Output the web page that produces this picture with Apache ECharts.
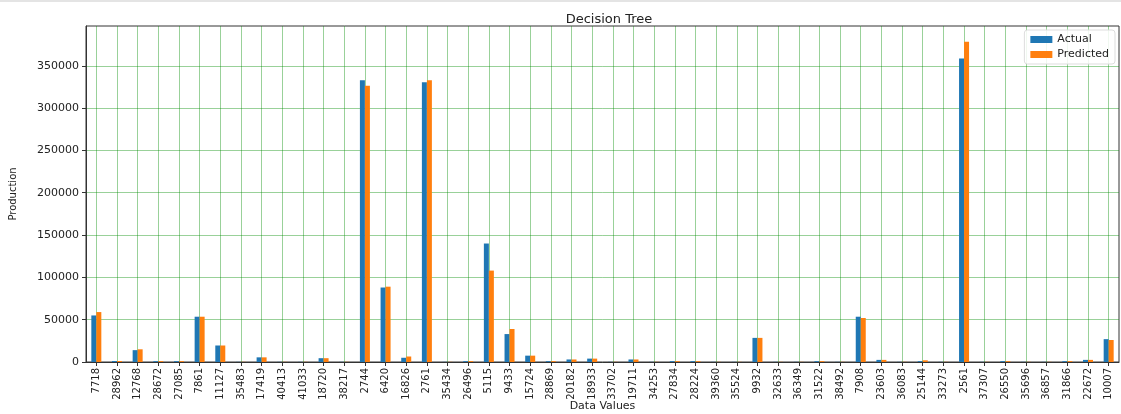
<!DOCTYPE html>
<html>
<head>
<meta charset="utf-8">
<script src="https://cdn.jsdelivr.net/npm/echarts@6/dist/echarts.min.js"></script>
<style>
  html, body { margin: 0; padding: 0; background: #fff; }
  #chart { width: 1121px; height: 414px; border-top: 2px solid #e4e4e4; box-sizing: border-box; }
</style>
</head>
<body>
<div id="chart"></div>
<script>
// Sample identifiers shown along the x axis
const dataValues = ['7718','28962','12768','28672','27085','7861','11127','35483','17419','40413',
  '41033','18720','38217','2744','6420','16826','2761','35434','26496','5115',
  '9433','15724','28869','20182','18933','33702','19711','34253','27834','28224',
  '39360','35524','9932','32633','36349','31522','38492','7908','23603','36083',
  '25144','33273','2561','37307','26550','35696','36857','31866','22672','10007'];

// Observed production
const actual = [55000,1200,14000,1000,1000,53500,19500,200,5500,200,
  200,4500,200,333000,88000,5000,330500,200,1000,140000,
  33000,7500,1000,3000,4000,200,3000,200,1000,1000,
  200,200,28500,200,200,1000,200,53500,2500,200,
  1000,200,358500,200,1000,200,200,1000,2500,27000];

// Model output
const predicted = [59000,1200,15000,1000,1000,53500,19500,200,5500,200,
  200,4500,200,326500,89000,6500,333000,200,1000,108000,
  39000,7500,1000,3000,4000,200,3000,200,1000,1000,
  200,200,28500,200,200,1000,200,52000,2500,200,
  2000,200,378500,200,1000,200,200,1000,2500,26000];

const yTicks = [0, 50000, 100000, 150000, 200000, 250000, 300000, 350000];

const gridGreen = 'rgba(0,140,0,0.4)';
const chart = echarts.init(document.getElementById('chart'), null, { renderer: 'canvas' });

chart.setOption({
  animation: false,
  title: {
    text: 'Decision Tree',
    left: 604, top: 6, textAlign: 'center',
    textStyle: { fontFamily: 'DejaVu Sans', fontSize: 13, fontWeight: 'normal', color: '#222' }
  },
  legend: {
    orient: 'vertical',
    right: 6, top: 28,
    itemWidth: 22, itemHeight: 7, itemGap: 4,
    padding: [4, 6, 4, 6],
    borderColor: '#ddd', borderWidth: 1, borderRadius: 3,
    backgroundColor: 'rgba(255,255,255,0.85)',
    icon: 'rect',
    textStyle: { fontFamily: 'DejaVu Sans', fontSize: 11, color: '#222' },
    data: ['Actual', 'Predicted']
  },
  grid: {
    left: 86, right: 2, top: 24, bottom: 52,
    outerBoundsMode: 'none', containLabel: false,
    show: true, borderColor: '#333', borderWidth: 1
  },
  xAxis: {
    type: 'category',
    data: dataValues,
    name: 'Data Values',
    nameLocation: 'middle', nameGap: 39, nameMoveOverlap: false,
    nameTextStyle: { fontFamily: 'DejaVu Sans', fontSize: 11, color: '#222' },
    axisLine: { lineStyle: { color: '#333' } },
    axisTick: { show: true, alignWithLabel: true, length: 4, lineStyle: { color: '#333' } },
    axisLabel: { interval: 0, rotate: 90, fontFamily: 'DejaVu Sans', fontSize: 10, color: '#222', margin: 6 },
    splitLine: { show: true, alignWithLabel: true, interval: 0, lineStyle: { color: gridGreen, width: 1 } }
  },
  yAxis: {
    type: 'value',
    min: 0, max: 397000, interval: 50000,
    name: 'Production',
    nameLocation: 'middle', nameGap: 68, nameRotate: 90, nameMoveOverlap: false,
    nameTextStyle: { fontFamily: 'DejaVu Sans', fontSize: 10, color: '#222' },
    axisLine: { show: true, lineStyle: { color: '#333' } },
    axisTick: { show: true, length: 4, lineStyle: { color: '#333' } },
    axisLabel: {
      showMaxLabel: false,
      fontFamily: 'DejaVu Sans', fontSize: 11, color: '#222', margin: 7,
      formatter: v => (yTicks.indexOf(v) >= 0 ? String(v) : '')
    },
    splitLine: { show: true, showMaxLine: false, lineStyle: { color: gridGreen, width: 1 } }
  },
  series: [
    {
      name: 'Actual', type: 'bar', data: actual,
      barWidth: 5, barGap: '0%',
      itemStyle: { color: '#1f77b4' }
    },
    {
      name: 'Predicted', type: 'bar', data: predicted,
      barWidth: 5, barGap: '0%',
      itemStyle: { color: '#ff7f0e' }
    }
  ]
});
</script>
</body>
</html>
